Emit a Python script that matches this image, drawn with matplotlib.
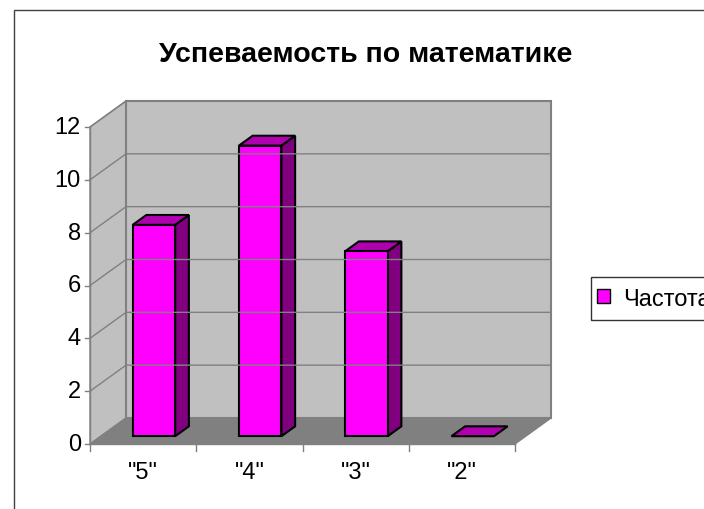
import matplotlib.pyplot as plt
from matplotlib.patches import Polygon, Patch, Rectangle

plt.rcParams['font.family'] = ['Liberation Sans', 'DejaVu Sans']

# === Données ===
categories = ['"5"', '"4"', '"3"', '"2"']
frequences = [8, 11, 7, 0]
y_ticks = [0, 2, 4, 6, 8, 10, 12]
titre = "Успеваемость по математике"
legende = "Частота"

# === Géométrie pseudo-3D (style Excel) ===
W, H = 704, 510
DX, DY = 0.339, 0.984      # décalage de profondeur complète (unités données)
d_avant, d_arriere = 0.30, 0.68
largeur = 0.40
ymax = 12
n = len(categories)


def proj(x, y, d):
    return (x + d * DX, y + d * DY)


fig = plt.figure(figsize=(W / 100, H / 100), dpi=100)
ax = fig.add_axes([90 / W, 65 / H, 425 / W, 317 / H])
ax.set_xlim(0, n)
ax.set_ylim(0, ymax)
ax.axis('off')

# bordure du graphique
fig.patches.append(Rectangle((14 / W, -0.1), 1.2, 1 - 11 / H + 0.1,
                             transform=fig.transFigure, fill=False,
                             edgecolor='#404040', lw=1))

gris = '#808080'
# murs
cote = [proj(0, 0, 0), proj(0, ymax, 0), proj(0, ymax, 1), proj(0, 0, 1)]
fond = [proj(0, 0, 1), proj(0, ymax, 1), proj(n, ymax, 1), proj(n, 0, 1)]
sol = [proj(0, 0, 0), proj(n, 0, 0), proj(n, 0, 1), proj(0, 0, 1)]
ax.add_patch(Polygon(cote, closed=True, facecolor='#C0C0C0', edgecolor=gris, lw=1, clip_on=False))
ax.add_patch(Polygon(fond, closed=True, facecolor='#C0C0C0', edgecolor=gris, lw=1.5, clip_on=False))
ax.add_patch(Polygon(sol, closed=True, facecolor='#808080', edgecolor=gris, lw=1, clip_on=False))

# quadrillage
for v in y_ticks[1:]:
    pts = [proj(0, v, 0), proj(0, v, 1), proj(n, v, 1)]
    ax.plot([p[0] for p in pts], [p[1] for p in pts], color=gris, lw=1, clip_on=False)

# axes et graduations
ax.plot([0, 0], [0, ymax], color=gris, lw=1, clip_on=False)
ax.plot([0, n], [0, 0], color=gris, lw=1, clip_on=False)
for v in y_ticks:
    ax.plot([-0.05, 0], [v, v], color=gris, lw=1, clip_on=False)
    ax.text(-0.085, v, str(v), ha='right', va='center', fontsize=17, color='black')
for i in range(n + 1):
    ax.plot([i, i], [0, -0.27], color=gris, lw=1, clip_on=False)
for i, c in enumerate(categories):
    ax.text(i + 0.5, -1.07, c, ha='center', va='center', fontsize=17, color='black')

# barres
for i, v in enumerate(frequences):
    x0 = i + 0.5 - largeur / 2
    x1 = i + 0.5 + largeur / 2
    dessus = [proj(x0, v, d_avant), proj(x1, v, d_avant),
              proj(x1, v, d_arriere), proj(x0, v, d_arriere)]
    if v > 0:
        flanc = [proj(x1, 0, d_avant), proj(x1, v, d_avant),
                 proj(x1, v, d_arriere), proj(x1, 0, d_arriere)]
        face = [proj(x0, 0, d_avant), proj(x0, v, d_avant),
                proj(x1, v, d_avant), proj(x1, 0, d_avant)]
        ax.add_patch(Polygon(flanc, closed=True, facecolor='#800080', edgecolor='black', lw=1.5, clip_on=False))
        ax.add_patch(Polygon(dessus, closed=True, facecolor='#B000B0', edgecolor='black', lw=1.5, clip_on=False))
        ax.add_patch(Polygon(face, closed=True, facecolor='#FF00FF', edgecolor='black', lw=1.5, clip_on=False))
    else:
        ax.add_patch(Polygon(dessus, closed=True, facecolor='#B000B0', edgecolor='black', lw=1.5, clip_on=False))

# titre
fig.text(366 / W, 1 - 55 / H, titre, ha='center', va='center', fontsize=20.5, fontweight='bold')

# légende
leg = fig.legend(handles=[Patch(facecolor='#FF00FF', edgecolor='black')], labels=[legende],
                 loc='center left', bbox_to_anchor=(591 / W, 1 - 299.5 / H),
                 fontsize=17, frameon=True, fancybox=False, handlelength=0.55,
                 handleheight=0.55, handletextpad=0.35, borderpad=0.45, borderaxespad=0)
leg._legend_box.align = 'left'
leg.get_frame().set_edgecolor('black')
leg.get_frame().set_linewidth(1)
for h in leg.legend_handles:
    h.set_x(h.get_x() - 3)

fig.savefig('out.png', dpi=100)
